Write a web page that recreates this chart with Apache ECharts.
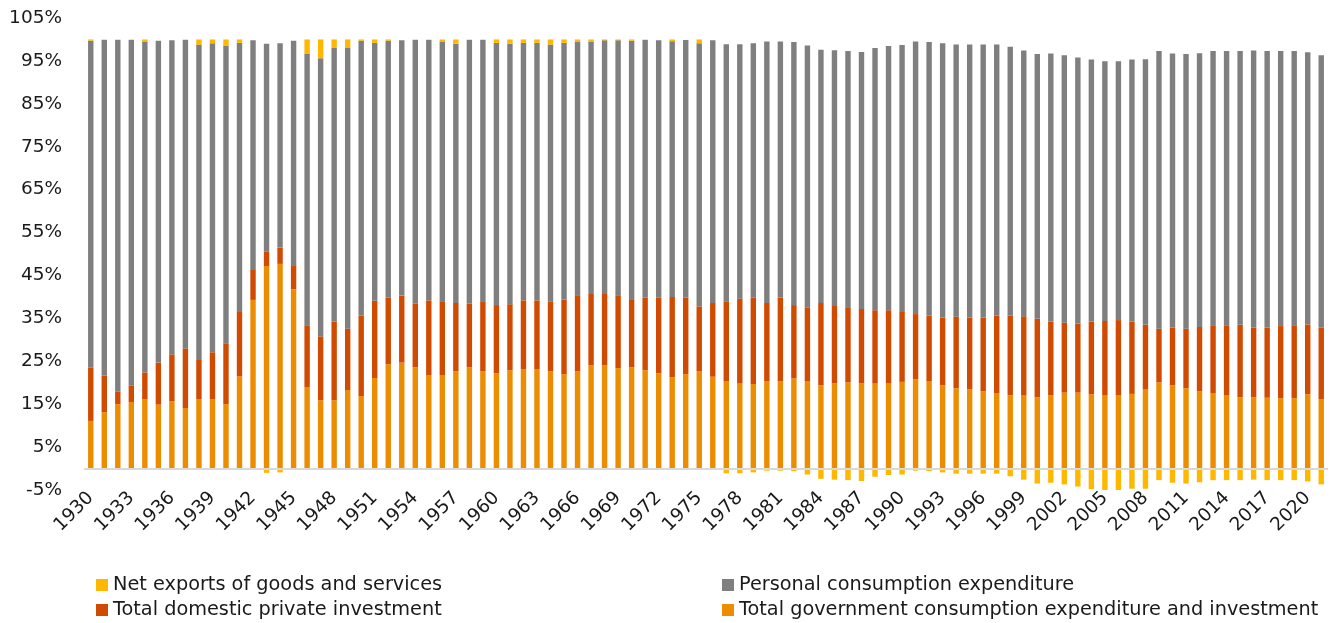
<!DOCTYPE html>
<html>
<head>
<meta charset="utf-8">
<script src="https://cdn.jsdelivr.net/npm/echarts@6/dist/echarts.min.js"></script>
<style>
  html, body { margin: 0; padding: 0; background: #ffffff; }
  #chart { width: 1341px; height: 623px; }
</style>
</head>
<body>
<div id="chart"></div>
<script>
// Shares of GDP by expenditure component, 1930-2021 (percent)
const years = [];
for (let y = 1930; y <= 2021; y++) years.push(String(y));

const government = [
  11.1, 13.1, 15.0, 15.5, 16.1, 14.9, 15.7, 14.1, 16.2, 16.2,
  15.0, 21.5, 39.3, 47.2, 47.7, 41.8, 19.0, 15.9, 15.9, 18.3,
  16.9, 21.1, 24.3, 24.7, 23.6, 21.8, 21.8, 22.7, 23.6, 22.7,
  22.2, 22.9, 23.2, 23.2, 22.7, 22.0, 22.7, 24.1, 24.1, 23.4,
  23.6, 22.9, 22.2, 21.3, 22.0, 22.7, 21.4, 20.4, 19.8, 19.7,
  20.4, 20.3, 21.0, 20.4, 19.4, 19.9, 20.1, 19.9, 19.8, 19.8,
  20.2, 20.8, 20.4, 19.4, 18.7, 18.5, 18.0, 17.6, 17.1, 17.0,
  16.6, 17.1, 17.7, 17.7, 17.3, 17.0, 17.0, 17.4, 18.4, 20.1,
  19.4, 18.7, 18.0, 17.6, 17.0, 16.6, 16.6, 16.5, 16.4, 16.4,
  17.3, 16.2
];

const investment = [
  12.4, 8.5, 3.0, 3.9, 6.3, 9.8, 10.9, 13.9, 9.1, 10.9,
  14.2, 15.0, 7.0, 3.4, 3.8, 5.6, 14.4, 14.9, 18.4, 14.3,
  18.7, 18.0, 15.6, 15.6, 14.9, 17.4, 17.2, 15.9, 14.8, 16.3,
  15.9, 15.4, 16.0, 16.0, 16.2, 17.4, 17.7, 16.6, 16.6, 17.0,
  15.7, 16.9, 17.7, 18.7, 17.8, 15.1, 17.2, 18.5, 19.8, 20.1,
  18.2, 19.5, 17.1, 17.1, 19.2, 18.0, 17.5, 17.3, 17.1, 17.1,
  16.3, 15.2, 15.2, 15.8, 16.7, 16.7, 17.2, 18.0, 18.5, 18.5,
  18.3, 17.2, 16.3, 16.1, 17.0, 17.4, 17.6, 16.9, 15.1, 12.5,
  13.5, 13.9, 15.0, 15.8, 16.4, 16.9, 16.3, 16.4, 16.8, 17.0,
  16.3, 16.6
];

const consumption = [
  76.2, 78.3, 81.9, 80.5, 77.1, 75.0, 73.2, 71.9, 73.5, 72.0,
  69.4, 62.7, 53.5, 48.4, 47.6, 52.3, 63.3, 64.8, 63.7, 65.4,
  64.1, 60.1, 59.8, 59.5, 61.4, 60.7, 60.5, 60.4, 61.5, 60.9,
  61.1, 60.7, 60.0, 60.0, 59.9, 59.8, 59.1, 58.8, 59.1, 59.4,
  60.4, 60.1, 59.9, 59.6, 60.1, 61.3, 61.2, 60.0, 59.3, 59.3,
  60.9, 59.7, 61.3, 61.1, 59.0, 59.6, 59.7, 59.9, 61.1, 61.6,
  62.2, 63.5, 63.8, 63.9, 63.4, 63.6, 63.6, 63.2, 62.7, 61.9,
  61.7, 62.4, 62.3, 62.0, 61.0, 60.5, 60.3, 61.0, 61.9, 64.7,
  63.8, 64.0, 63.8, 63.9, 63.9, 63.8, 64.5, 64.4, 64.1, 63.9,
  63.4, 63.5
];

const netExports = [
  0.3, 0.1, 0.1, 0.1, 0.5, -0.1, -0.1, 0.1, 1.2, 0.9,
  1.4, 0.8, -0.1, -1.0, -0.9, -0.2, 3.3, 4.4, 2.0, 2.0,
  0.3, 0.8, 0.3, -0.2, 0.1, 0.1, 0.5, 1.0, 0.1, 0.1,
  0.8, 1.0, 0.8, 0.8, 1.2, 0.8, 0.5, 0.5, 0.2, 0.2,
  0.3, 0.1, -0.2, 0.4, -0.1, 0.9, -0.2, -1.1, -1.1, -0.9,
  -0.5, -0.5, -0.6, -1.4, -2.4, -2.6, -2.7, -2.9, -1.9, -1.5,
  -1.4, -0.5, -0.6, -0.9, -1.2, -1.2, -1.2, -1.2, -1.8, -2.6,
  -3.5, -3.3, -3.7, -4.2, -4.8, -5.1, -5.1, -4.7, -4.7, -2.7,
  -3.3, -3.5, -3.2, -2.7, -2.7, -2.7, -2.6, -2.7, -2.7, -2.7,
  -3.0, -3.7
];

const yTicks = [-5, 5, 15, 25, 35, 45, 55, 65, 75, 85, 95, 105];

const NAME_NX = 'Net exports of goods and services';
const NAME_INV = 'Total domestic private investment';
const NAME_PCE = 'Personal consumption expenditure';
const NAME_GOV = 'Total government consumption expenditure and investment';

const COLORS = {
  gov: '#EC8C00',
  inv: '#D04B02',
  pce: '#7F7F7F',
  nx: '#FFB800'
};

const FONT = "'DejaVu Sans', 'Open Sans', sans-serif";
const TEXT_COLOR = '#1a1a1a';

const chart = echarts.init(document.getElementById('chart'), null, { renderer: 'canvas' });

function barSeries(name, data, color, extra) {
  return Object.assign({
    name: name,
    type: 'bar',
    stack: 'gdp',
    data: data,
    barWidth: '40%',
    itemStyle: { color: color },
    emphasis: { disabled: true },
    animation: false
  }, extra || {});
}

// One single-item legend per slot, laid out as two columns of two rows
function legendSlot(name, left, top) {
  return {
    left: left, top: top, orient: 'horizontal', padding: 0,
    itemWidth: 12, itemHeight: 12, itemGap: 0,
    icon: 'rect',
    textStyle: { fontFamily: FONT, fontSize: 19.3, color: TEXT_COLOR, lineHeight: 22, padding: [0, 0, 0, 0] },
    data: [name]
  };
}

chart.setOption({
  animation: false,
  backgroundColor: '#ffffff',
  grid: { left: 84, top: 18, width: 1244, height: 472, containLabel: false },
  legend: [
    legendSlot(NAME_NX, 96, 574),
    legendSlot(NAME_INV, 96, 599),
    legendSlot(NAME_PCE, 722, 574),
    legendSlot(NAME_GOV, 722, 599)
  ],
  xAxis: {
    type: 'category',
    data: years,
    position: 'bottom',
    axisLine: { show: false, onZero: false },
    axisTick: { show: false },
    axisLabel: {
      interval: 2,
      rotate: 45,
      margin: 5,
      fontFamily: FONT,
      fontSize: 18.5,
      color: TEXT_COLOR
    },
    splitLine: { show: false }
  },
  yAxis: {
    type: 'value',
    min: -5,
    max: 105,
    axisLine: { show: false },
    axisTick: { show: false },
    splitLine: { show: false },
    axisLabel: {
      customValues: yTicks,
      formatter: v => v + '%',
      margin: 22,
      fontFamily: FONT,
      fontSize: 18.5,
      color: TEXT_COLOR
    }
  },
  series: [
    barSeries(NAME_GOV, government, COLORS.gov, {
      markLine: {
        silent: true,
        symbol: 'none',
        label: { show: false },
        lineStyle: { color: '#D9D9D9', width: 2, type: 'solid' },
        data: [{ yAxis: 0 }],
        z: 5
      }
    }),
    barSeries(NAME_INV, investment, COLORS.inv),
    barSeries(NAME_PCE, consumption, COLORS.pce),
    barSeries(NAME_NX, netExports, COLORS.nx)
  ]
});
</script>
</body>
</html>
